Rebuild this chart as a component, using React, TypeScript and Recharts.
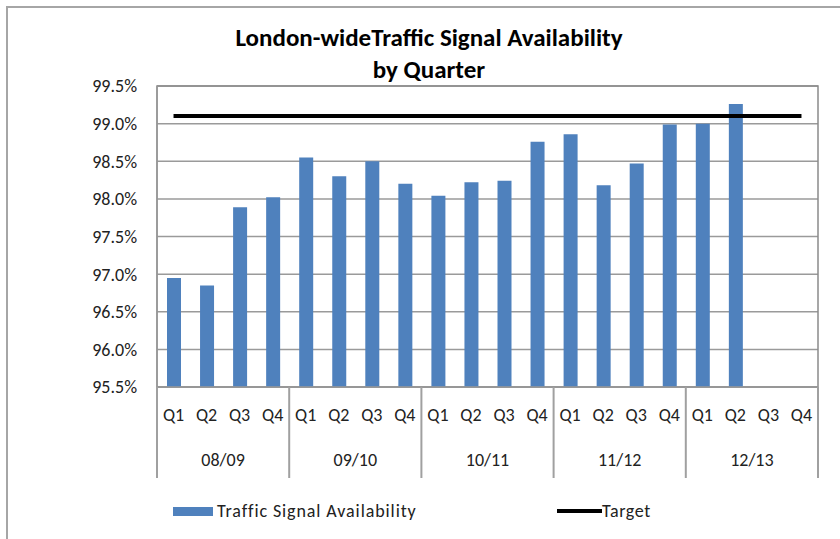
import {
  Bar,
  CartesianGrid,
  ComposedChart,
  Line,
  ReferenceArea,
  XAxis,
  YAxis,
} from "recharts";

const quarters = [
  "Q1", "Q2", "Q3", "Q4",
  "Q1", "Q2", "Q3", "Q4",
  "Q1", "Q2", "Q3", "Q4",
  "Q1", "Q2", "Q3", "Q4",
  "Q1", "Q2", "Q3", "Q4",
];
const years = ["08/09", "09/10", "10/11", "11/12", "12/13"];
const availability = [
  96.95, 96.85, 97.89, 98.02,
  98.55, 98.3, 98.5, 98.2,
  98.04, 98.22, 98.24, 98.76,
  98.86, 98.18, 98.47, 98.99,
  99.0, 99.26, null, null,
];
const targetValue = 99.1;
const yTicks = [95.5, 96, 96.5, 97, 97.5, 98, 98.5, 99, 99.5];

const data = quarters.map((q, i) => ({
  quarter: q,
  year: years[Math.floor(i / 4)],
  availability: availability[i],
  target: targetValue,
}));

const FONT = "Carlito, Lato, 'Liberation Sans', sans-serif";
const W = 840;
const H = 539;
const LEFT = 157;
const RIGHT = 22;
const BAND = (W - LEFT - RIGHT) / quarters.length;

function QuarterTick(props: any) {
  const { x, y, payload, index } = props;
  const i = index ?? payload.index;
  const left = x - BAND / 2;
  return (
    <g>
      <text x={x} y={y + 20} dominantBaseline="central" textAnchor="middle" fontSize={18} fill="#222" fontFamily={FONT}>
        {payload.value}
      </text>
      {i % 4 === 0 && (
        <line x1={left} x2={left} y1={y - 8} y2={y + 83} stroke="#a0a0a0" strokeWidth={2} />
      )}
      {i === quarters.length - 1 && (
        <line x1={x + BAND / 2} x2={x + BAND / 2} y1={y - 8} y2={y + 83} stroke="#a0a0a0" strokeWidth={2} />
      )}
      {i % 4 === 1 && (
        <text x={x + BAND / 2} y={y + 65} dominantBaseline="central" textAnchor="middle" fontSize={18} fill="#222" fontFamily={FONT}>
          {data[i].year}
        </text>
      )}
    </g>
  );
}

export default function App() {
  return (
    <div style={{ position: "absolute", left: 0, top: 0, width: W, height: H, background: "#fff", overflow: "hidden" }}>
      <div
        style={{
          position: "absolute",
          left: 6,
          top: 6,
          width: W,
          height: H,
          borderLeft: "2px solid #a6a6a6",
          borderTop: "2px solid #a6a6a6",
        }}
      />
      <div
        style={{
          position: "absolute",
          left: 0,
          width: 858,
          top: 22,
          textAlign: "center",
          fontFamily: FONT,
          fontWeight: 700,
          fontSize: 25,
          lineHeight: "32px",
          color: "#000",
        }}
      >
        London-wideTraffic Signal Availability
        <br />
        by Quarter
      </div>
      <ComposedChart
        width={W}
        height={H}
        data={data}
        margin={{ top: 86, right: RIGHT, bottom: 63, left: 0 }}
        barSize={14}
      >
        <CartesianGrid vertical={false} stroke="#9a9a9a" strokeWidth={1.5} />
        <ReferenceArea y1={95.5} y2={99.5} fill="none" stroke="#8a8a8a" strokeWidth={1.5} />
        <XAxis
          dataKey="quarter"
          interval={0}
          height={89}
          axisLine={{ stroke: "#999", strokeWidth: 1.5 }}
          tickLine={false}
          tick={<QuarterTick />}
        />
        <YAxis
          width={LEFT}
          domain={[95.5, 99.5]}
          ticks={yTicks}
          allowDataOverflow
          tickFormatter={(v: number) => `${v.toFixed(1)}%`}
          tick={{ fontSize: 18, fill: "#222", fontFamily: FONT }}
          tickLine={false}
          tickMargin={14}
          axisLine={{ stroke: "#999", strokeWidth: 1.5 }}
        />
        <Bar dataKey="availability" fill="#4f81bd" isAnimationActive={false} />
        <Line
          dataKey="target"
          stroke="#000"
          strokeWidth={4}
          dot={false}
          activeDot={false}
          isAnimationActive={false}
        />
      </ComposedChart>
      <div
        style={{
          position: "absolute",
          top: 498,
          left: 173,
          height: 26,
          fontFamily: FONT,
          fontSize: 18,
          color: "#222",
          display: "flex",
          alignItems: "center",
        }}
      >
        <span style={{ display: "inline-block", width: 40, height: 9, background: "#4f81bd", marginRight: 4 }} />
        <span style={{ display: "inline-block", width: 200, letterSpacing: 0.9, whiteSpace: "nowrap" }}>
          Traffic Signal Availability
        </span>
        <span style={{ display: "inline-block", width: 45, height: 4, background: "#000", marginLeft: 140 }} />
        <span style={{ letterSpacing: 0.6 }}>Target</span>
      </div>
    </div>
  );
}
